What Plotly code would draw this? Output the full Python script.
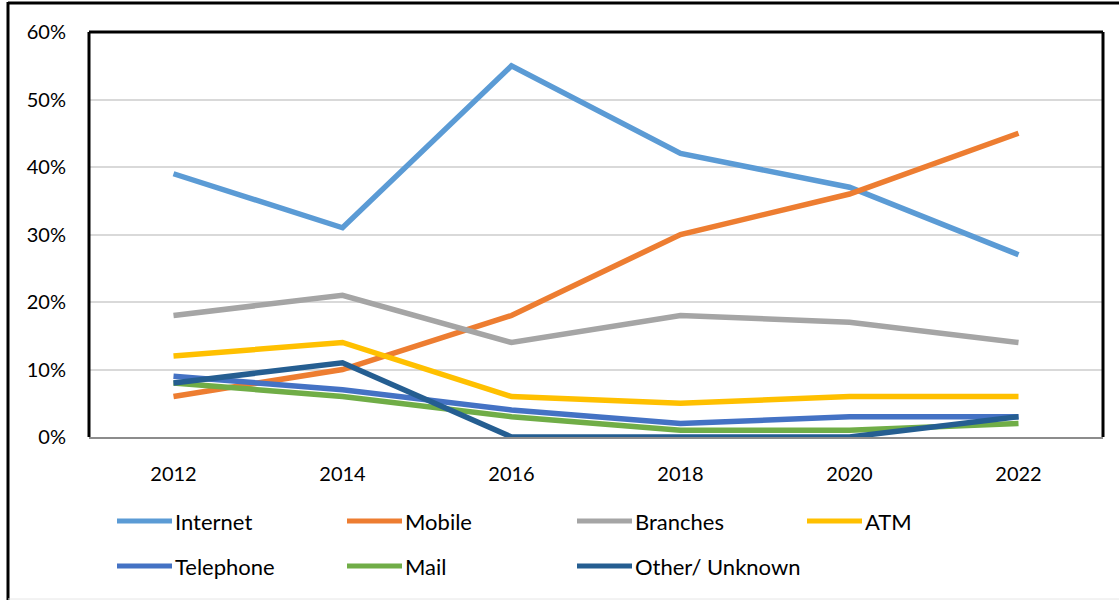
import plotly.graph_objects as go

years = ["2012", "2014", "2016", "2018", "2020", "2022"]
series_names = ["Internet", "Mobile", "Branches", "ATM", "Telephone", "Mail", "Other/ Unknown"]
internet = [0.39, 0.31, 0.55, 0.42, 0.37, 0.27]
mobile = [0.06, 0.10, 0.18, 0.30, 0.36, 0.45]
branches = [0.18, 0.21, 0.14, 0.18, 0.17, 0.14]
atm = [0.12, 0.14, 0.06, 0.05, 0.06, 0.06]
telephone = [0.09, 0.07, 0.04, 0.02, 0.03, 0.03]
mail = [0.08, 0.06, 0.03, 0.01, 0.01, 0.02]
other = [0.08, 0.11, 0.00, 0.00, 0.00, 0.03]
colors = ["#5B9BD5", "#ED7D31", "#A5A5A5", "#FFC000", "#4472C4", "#70AD47", "#255E91"]
y_ticks = [0, 0.1, 0.2, 0.3, 0.4, 0.5, 0.6]
y_tick_labels = ["0%", "10%", "20%", "30%", "40%", "50%", "60%"]

all_series = [internet, mobile, branches, atm, telephone, mail, other]

W, H = 1119, 600
L, R, T, B = 89, 16, 32, 163
PW, PH = W - L - R, H - T - B

def px_x(x):
    return (x - L) / PW

def px_y(y):
    return (H - B - y) / PH

FONT = "Lato, Carlito, Calibri, sans-serif"

fig = go.Figure()
for name, vals, col in zip(series_names, all_series, colors):
    fig.add_trace(go.Scatter(
        x=years, y=vals, mode="lines", name=name,
        line=dict(color=col, width=5.5), showlegend=False,
        hovertemplate="%{x}: %{y:.0%}<extra>" + name + "</extra>",
    ))

shapes = []
# plot area border: top, left, right in black
shapes.append(dict(type="line", xref="paper", yref="paper", x0=0, x1=1, y0=1, y1=1,
                   line=dict(color="black", width=3)))
shapes.append(dict(type="line", xref="paper", yref="paper", x0=0, x1=0, y0=0, y1=1,
                   line=dict(color="black", width=3)))
shapes.append(dict(type="line", xref="paper", yref="paper", x0=1, x1=1, y0=0, y1=1,
                   line=dict(color="black", width=3)))
# outer chart border (top and left visible)
shapes.append(dict(type="line", xref="paper", yref="paper", x0=px_x(8), x1=px_x(1125),
                   y0=px_y(3), y1=px_y(3), line=dict(color="black", width=3)))
shapes.append(dict(type="line", xref="paper", yref="paper", x0=px_x(8), x1=px_x(8),
                   y0=px_y(2), y1=px_y(605), line=dict(color="black", width=3)))
shapes.append(dict(type="line", xref="paper", yref="paper", x0=px_x(8), x1=px_x(1125),
                   y0=px_y(599), y1=px_y(599), line=dict(color="#E6E6E6", width=1)))

annotations = []
# manual legend: 4 columns, 2 rows
col_x = [117, 347, 577, 807]
row_y = [521, 566]
for i, (name, col) in enumerate(zip(series_names, colors)):
    r, c = divmod(i, 4)
    x0 = col_x[c]
    y = row_y[r]
    shapes.append(dict(type="line", xref="paper", yref="paper",
                       x0=px_x(x0), x1=px_x(x0 + 55), y0=px_y(y), y1=px_y(y),
                       line=dict(color=col, width=5)))
    annotations.append(dict(xref="paper", yref="paper", x=px_x(x0 + 56), y=px_y(y),
                            text=name, showarrow=False, xanchor="left", yanchor="middle",
                            font=dict(family=FONT, size=22, color="black")))

fig.update_layout(
    width=W, height=H,
    margin=dict(l=L, r=R, t=T, b=B, pad=0),
    paper_bgcolor="white", plot_bgcolor="white",
    font=dict(family=FONT, size=20, color="black"),
    shapes=shapes, annotations=annotations,
    showlegend=False,
    xaxis=dict(
        type="category", range=[-0.5, 5.5], showgrid=False, zeroline=False,
        showline=True, linecolor="#8C8C8C", linewidth=2,
        ticks="", ticklabelstandoff=18,
        tickfont=dict(family=FONT, size=20, color="black"),
    ),
    yaxis=dict(
        range=[0, 0.6], tickvals=y_ticks, ticktext=y_tick_labels,
        showgrid=True, gridcolor="#D9D9D9", gridwidth=1.5, zeroline=False,
        showline=False, ticks="", ticklabelstandoff=22,
        tickfont=dict(family=FONT, size=20, color="black"),
    ),
)

fig.write_html("out.html")
